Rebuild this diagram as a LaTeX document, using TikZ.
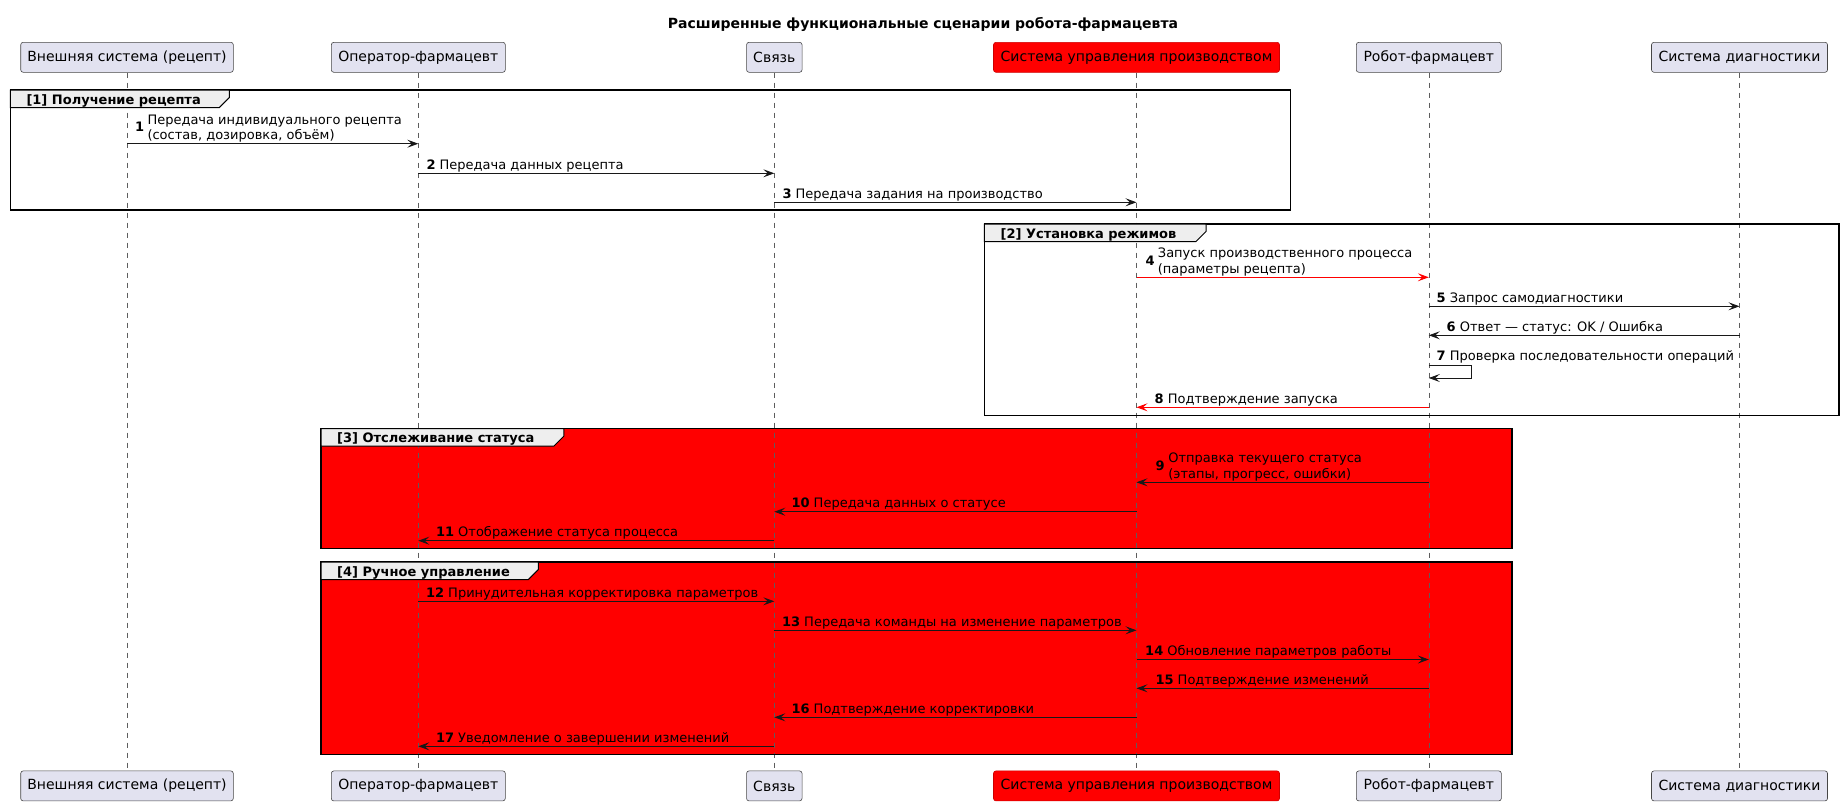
\documentclass[tikz,border=0pt]{standalone}
\usepackage{fontspec}
\setmainfont{DejaVu Sans}
\usetikzlibrary{arrows.meta}
\definecolor{pfill}{HTML}{E2E2F0}
\definecolor{pline}{HTML}{181818}
\definecolor{tabfill}{HTML}{EEEEEE}
\definecolor{pred}{HTML}{FF0000}
\begin{document}
\begin{tikzpicture}[x=1pt,y=-1pt,
  part/.style={draw=pline!80, fill=pfill, line width=0.6pt, rounded corners=2.5pt,
    minimum height=30pt, inner sep=0pt, font=\fontsize{14}{16}\selectfont, text=black},
  redpart/.style={part, fill=pred, draw=red!80!black},
  life/.style={draw=pline!70, line width=0.6pt, dash pattern=on 5pt off 5pt},
  msg/.style={draw=pline, line width=1pt, -{Stealth[length=11pt,width=8pt,inset=4.5pt]}},
  redmsg/.style={msg, draw=pred},
  lbl/.style={anchor=base west, inner sep=0pt, font=\fontsize{13}{15.2}\selectfont},
  numlbl/.style={lbl, font=\bfseries\fontsize{13}{15.2}\selectfont},
  frame/.style={draw=black, line width=1.5pt},
  tabshape/.style={draw=black, line width=1pt, fill=tabfill},
  glabel/.style={anchor=base west, inner sep=0pt, font=\bfseries\fontsize{13}{15.2}\selectfont},
]
\useasboundingbox (0,0) rectangle (1843,806);

% title
\node[anchor=base, inner sep=0pt, font=\bfseries\fontsize{14}{16}\selectfont] (title) at (923,28.5)
  {Расширенные функциональные сценарии робота-фармацевта};

% participants (top)
\node[part, minimum width=212.6pt] (pA) at (127,57.3) {Внешняя система (рецепт)};
\node[part, minimum width=174pt] (pB) at (418.3,57.3) {Оператор-фармацевт};
\node[part, minimum width=55.5pt] (pC) at (774.3,57.3) {Связь};
\node[redpart, minimum width=286pt] (pD) at (1136.5,57.3) {Система управления производством};
\node[part, minimum width=145pt] (pE) at (1428.8,57.3) {Робот-фармацевт};
\node[part, minimum width=176pt] (pF) at (1739.5,57.3) {Система диагностики};
% participants (bottom)
\node[part, minimum width=212.6pt] (bA) at (127,785.9) {Внешняя система (рецепт)};
\node[part, minimum width=174pt] (bB) at (418.3,785.9) {Оператор-фармацевт};
\node[part, minimum width=55.5pt] (bC) at (774.3,785.9) {Связь};
\node[redpart, minimum width=286pt] (bD) at (1136.5,785.9) {Система управления производством};
\node[part, minimum width=145pt] (bE) at (1428.8,785.9) {Робот-фармацевт};
\node[part, minimum width=176pt] (bF) at (1739.5,785.9) {Система диагностики};

% red group fills
\fill[pred] (321,428.7) rectangle (1512,548.7);
\fill[pred] (321,562) rectangle (1512,754.7);

% lifelines
\foreach \t/\b in {pA/bA,pB/bB,pC/bC,pD/bD,pE/bE,pF/bF}
  \draw[life] (\t.south) -- (\b.north);

% group frames
\draw[frame] (10.3,90) rectangle (1290.4,210);
\draw[tabshape] (10.3,90) -- (229.3,90) -- (229.3,97.5) -- (219.3,107.5) -- (10.3,107.5) -- cycle;
\node[glabel] (g1) at (26.3,104) {[1] Получение рецепта};

\draw[frame] (984.4,224) rectangle (1839,415.3);
\draw[tabshape] (984.4,224) -- (1206,224) -- (1206,231.5) -- (1196,241.5) -- (984.4,241.5) -- cycle;
\node[glabel] (g2) at (1000.4,238) {[2] Установка режимов};

\draw[frame] (321,428.7) rectangle (1512,548.7);
\draw[tabshape] (321,428.7) -- (563.8,428.7) -- (563.8,436.2) -- (553.8,446.2) -- (321,446.2) -- cycle;
\node[glabel] (g3) at (337,442.7) {[3] Отслеживание статуса};

\draw[frame] (321,562) rectangle (1512,754.7);
\draw[tabshape] (321,562) -- (538.3,562) -- (538.3,569.5) -- (528.3,579.5) -- (321,579.5) -- cycle;
\node[glabel] (g4) at (337,576) {[4] Ручное управление};

% messages
% 1
\draw[msg] (pA |- 0,143.7) -- (pB |- 0,143.7);
\node[numlbl] (n1) at (135,131.5) {1};
\node[lbl] (l1) at (147.3,139.4) {\begin{tabular}[b]{@{}l@{}}Передача индивидуального рецепта\\(состав, дозировка, объём)\end{tabular}};
% 2
\draw[msg] (pB |- 0,173.3) -- (pC |- 0,173.3);
\node[lbl] (l2) at (426.3,169) {\textbf{2} Передача данных рецепта};
% 3
\draw[msg] (pC |- 0,202.3) -- (pD |- 0,202.3);
\node[lbl] (l3) at (782.3,198) {\textbf{3} Передача задания на производство};
% 4
\draw[redmsg] (pD |- 0,277.3) -- (pE |- 0,277.3);
\node[numlbl] (n4) at (1145.3,265) {4};
\node[lbl] (l4) at (1157.7,273) {\begin{tabular}[b]{@{}l@{}}Запуск производственного процесса\\(параметры рецепта)\end{tabular}};
% 5
\draw[msg] (pE |- 0,306.3) -- (pF |- 0,306.3);
\node[lbl] (l5) at (1436.5,302) {\textbf{5} Запрос самодиагностики};
% 6
\draw[msg] (pF |- 0,335.3) -- (pE |- 0,335.3);
\node[lbl] (l6) at (1446.5,331) {\textbf{6} Ответ — статус: OK / Ошибка};
% 7
\coordinate (s7a) at (1471.3,365.3);
\coordinate (s7b) at (1471.3,378);
\draw[msg] (pE |- s7a) -- (s7a) -- (s7b) -- (pE |- s7b);
\node[lbl] (l7) at (1436.5,360) {\textbf{7} Проверка последовательности операций};
% 8
\draw[redmsg] (pE |- 0,407.3) -- (pD |- 0,407.3);
\node[lbl] (l8) at (1154.5,403) {\textbf{8} Подтверждение запуска};
% 9
\draw[msg] (pE |- 0,482.3) -- (pD |- 0,482.3);
\node[numlbl] (n9) at (1155.5,470) {9};
\node[lbl] (l9) at (1168.2,478) {\begin{tabular}[b]{@{}l@{}}Отправка текущего статуса\\(этапы, прогресс, ошибки)\end{tabular}};
% 10
\draw[msg] (pD |- 0,511.7) -- (pC |- 0,511.7);
\node[lbl] (l10) at (791.3,507.4) {\textbf{10} Передача данных о статусе};
% 11
\draw[msg] (pC |- 0,540.7) -- (pB |- 0,540.7);
\node[lbl] (l11) at (435.8,536.4) {\textbf{11} Отображение статуса процесса};
% 12
\draw[msg] (pB |- 0,601.3) -- (pC |- 0,601.3);
\node[lbl] (l12) at (425.8,597) {\textbf{12} Принудительная корректировка параметров};
% 13
\draw[msg] (pC |- 0,630.3) -- (pD |- 0,630.3);
\node[lbl] (l13) at (781.8,626) {\textbf{13} Передача команды на изменение параметров};
% 14
\draw[msg] (pD |- 0,659.5) -- (pE |- 0,659.5);
\node[lbl] (l14) at (1145,655.2) {\textbf{14} Обновление параметров работы};
% 15
\draw[msg] (pE |- 0,688.3) -- (pD |- 0,688.3);
\node[lbl] (l15) at (1155.3,684) {\textbf{15} Подтверждение изменений};
% 16
\draw[msg] (pD |- 0,717.3) -- (pC |- 0,717.3);
\node[lbl] (l16) at (791.3,713) {\textbf{16} Подтверждение корректировки};
% 17
\draw[msg] (pC |- 0,746.3) -- (pB |- 0,746.3);
\node[lbl] (l17) at (435.8,742) {\textbf{17} Уведомление о завершении изменений};
\end{tikzpicture}
\end{document}
